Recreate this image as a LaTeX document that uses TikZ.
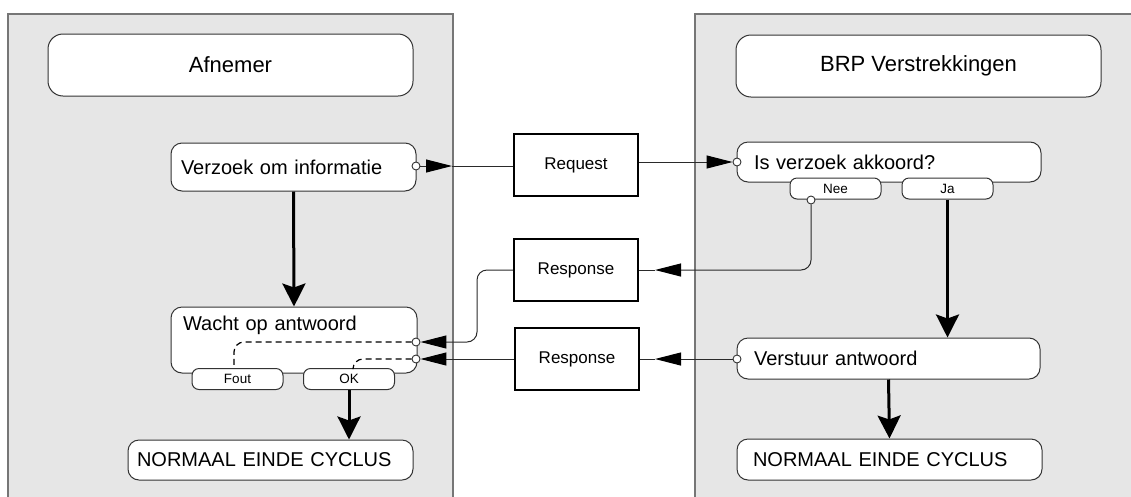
\documentclass[tikz,border=0pt]{standalone}
\usepackage{fontspec}
\setmainfont{Liberation Sans}
\usepackage{tikz}
\usetikzlibrary{calc,arrows.meta}
\definecolor{panelbg}{HTML}{E6E6E6}
\definecolor{panelline}{HTML}{767676}
\definecolor{boxline}{HTML}{333333}
\definecolor{msgline}{HTML}{2A2A2A}
\tikzset{
  panel/.style={draw=panelline, fill=panelbg, line width=1.3pt},
  title/.style={draw=boxline, fill=white, rounded corners=15pt, line width=1pt, minimum width=365pt, minimum height=62pt, font=\fontsize{22}{26}\selectfont},
  act/.style={draw=boxline, fill=white, rounded corners=11pt, line width=1pt, align=left, font=\fontsize{20}{24}\selectfont},
  tab/.style={draw=boxline, fill=white, rounded corners=7pt, line width=1pt, inner sep=0pt, minimum width=91pt, minimum height=21pt, font=\fontsize{13.5}{16}\selectfont},
  msgbox/.style={draw=black, fill=white, line width=2.4pt, minimum width=124pt, minimum height=62pt, font=\fontsize{17}{20}\selectfont},
  port/.style={circle, draw=boxline, fill=white, inner sep=0pt, minimum size=8pt, line width=0.9pt},
  flow/.style={draw=black, line width=3pt, -{Stealth[length=23pt,width=23pt,inset=4pt]}},
  msg/.style={draw=msgline, line width=1pt},
  tip/.style={-{Triangle[length=26pt,width=13pt,color=black]}},
  alt/.style={draw=black, dash pattern=on 6pt off 4pt, line width=1.2pt},
}
\begin{document}
\begin{tikzpicture}[x=1pt,y=-1pt]
  \useasboundingbox (0,0) rectangle (1131,496);
  \clip (0,0) rectangle (1131,496);

  % lanes
  \draw[panel] (8,14) rectangle (453,510);
  \draw[panel] (695,14) rectangle (1145,510);
  \node[title] (afn) at (230.5,65) {Afnemer};
  \node[title] (brp) at (918.5,66) {BRP Verstrekkingen};

  % Afnemer
  \node[act, text width=225pt, inner xsep=10pt, minimum height=48pt] (vzk) at (293.5,167) {Verzoek om informatie};
  \node[act, text width=222pt, inner xsep=12pt, inner ysep=8pt, text height=15pt, text depth=35pt] (wacht) at (294,340) {Wacht op antwoord};
  \node[tab] (fout) at (237.5,379) {Fout};
  \node[tab] (ok) at (349,379) {OK};
  \node[act, text width=267pt, inner xsep=9pt, minimum height=40pt] (normL) at (270.5,460) {NORMAAL EINDE CYCLUS};

  % BRP Verstrekkingen
  \node[act, text width=270pt, inner xsep=17pt, minimum height=40pt] (isv) at (889,162) {Is verzoek akkoord?};
  \node[tab] (nee) at (835.5,188.5) {Nee};
  \node[tab] (ja) at (947.5,188.5) {Ja};
  \node[act, text width=269pt, inner xsep=17pt, minimum height=41pt] (verst) at (888.5,358.5) {Verstuur antwoord};
  \node[act, text width=273pt, inner xsep=16pt, minimum height=41pt] (normR) at (889.5,459.5) {NORMAAL EINDE CYCLUS};

  % messages
  \node[msgbox] (req) at (576,165) {Request};
  \node[msgbox] (resp1) at (576,270) {Response};
  \node[msgbox] (resp2) at (577,359) {Response};

  % ports
  \node[port] (vzp) at (416,166) {};
  \node[port] (isp) at (737,162) {};
  \node[port] (neep) at (811,200) {};
  \node[port] (vsp) at (737,359) {};
  \node[port] (wp1) at (416,342) {};
  \node[port] (wp2) at (416,359) {};
  \coordinate (a1) at (452,166);
  \coordinate (a2) at (655,270);
  \coordinate (a3) at (655,359);
  \coordinate (bend) at (477,0);

  % flow
  \draw[flow] (vzk.south) -- (wacht.north);
  \draw[flow] (ok.south) -- (ok.south |- normL.north);
  \draw[flow] (ja.south) -- (ja.south |- verst.north);
  \draw[flow] (verst.south) -- (normR.north);

  % Request
  \draw[msg,tip] (vzp.east) -- (a1);
  \draw[msg] (a1) -- (req.west |- a1);
  \draw[msg,tip] (req.east |- isp) -- (isp.west);

  % Response (Nee)
  \draw[msg,tip,rounded corners=10pt] (neep.south) |- (a2);
  \draw[msg] (a2) -- (resp1.east |- a2);
  \draw[msg,tip,rounded corners=10pt] (resp1.west) -| (bend |- wp1) -- (wp1.east);

  % Response (antwoord)
  \draw[msg,tip] (vsp.west) -- (a3);
  \draw[msg] (a3) -- (resp2.east);
  \draw[msg,tip] (resp2.west) -- (wp2.east);

  % inside Wacht op antwoord
  \draw[alt,rounded corners=10pt] (wp1.west) -| ([xshift=-3.5pt]fout.north);
  \draw[alt,rounded corners=10pt] (wp2.west) -| ([xshift=4pt]ok.north);
\end{tikzpicture}
\end{document}
